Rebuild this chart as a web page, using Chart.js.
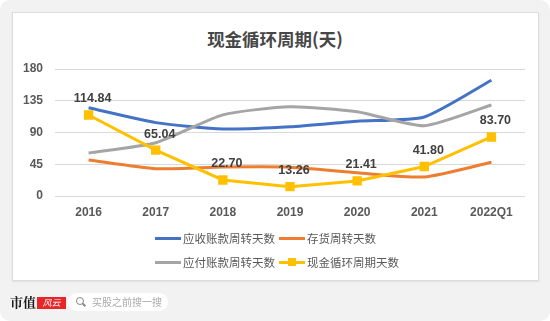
<!DOCTYPE html>
<html>
<head>
<meta charset="utf-8">
<script src="https://cdn.jsdelivr.net/npm/chart.js@4"></script>
<style>
  html, body { margin: 0; padding: 0; background: #fff; }
  #page { position: relative; width: 550px; height: 321px; overflow: hidden; }
  #bg { position: absolute; left: 0; top: 0; width: 550px; height: 321px; background: #f2f2f2; border-radius: 10px; }
  #card { position: absolute; left: 12px; top: 12px; width: 525px; height: 267px; background: #fff; border: 1px solid #dcdcdc; box-shadow: 0 1px 2px rgba(0,0,0,0.08); }
  #title { position: absolute; left: 0; top: 28px; width: 550px; text-align: center; font: bold 17.5px "Noto Sans CJK SC", sans-serif; color: #474747; line-height: 22px; }
  #chart { position: absolute; left: 0; top: 0; }
  #legend { position: absolute; left: 155px; top: 229px; display: grid; grid-template-columns: 124px 130px; row-gap: 6px; font: 11.5px "Noto Sans CJK SC", sans-serif; color: #595959; }
  .item { display: flex; align-items: center; height: 18px; white-space: nowrap; }
  .sw { position: relative; width: 26px; height: 3px; margin-right: 2px; }
  .sw i { position: absolute; left: 9px; top: -3px; width: 8px; height: 8px; }
  #logo { position: absolute; left: 10px; top: 294px; font: bold 13px "Noto Serif CJK SC", "Noto Sans CJK SC", serif; color: #1a1a1a; line-height: 16px; white-space: nowrap; }
  #logo span { display: inline-block; background: #e8262a; color: #fff; font: italic 9px "Noto Sans CJK SC", sans-serif; width: 29px; height: 12px; line-height: 12px; text-align: center; margin-left: 1px; vertical-align: 1px; }
  #search { position: absolute; left: 68px; top: 293px; width: 100px; height: 18px; background: #fff; border-radius: 9px; font: 10px "Noto Sans CJK SC", sans-serif; color: #aaa; line-height: 18px; white-space: nowrap; }
  #search b { position: absolute; left: 8px; top: 4px; width: 6px; height: 6px; border: 1.5px solid #888; border-radius: 50%; }
  #search em { position: absolute; left: 15px; top: 10px; width: 1.5px; height: 4px; background: #888; transform: rotate(-45deg); }
  #search span { position: absolute; left: 24px; top: 0; }
</style>
</head>
<body>
<div id="page">
  <div id="bg"></div>
  <div id="card"></div>
  <div id="title">现金循环周期(天)</div>
  <canvas id="chart" width="550" height="321"></canvas>
  <div id="legend"></div>
  <div id="logo">市值<span>风云</span></div>
  <div id="search"><b></b><em></em><span>买股之前搜一搜</span></div>
</div>
<script>
const categories = ['2016', '2017', '2018', '2019', '2020', '2021', '2022Q1'];
const arDays = [125, 104, 95, 98, 106, 112, 164];
const inventoryDays = [51, 38.7, 41, 40.7, 33, 27, 47.8];
const apDays = [61, 75.5, 115, 126.5, 119.5, 99.6, 129];
const cashCycleDays = [114.84, 65.04, 22.70, 13.26, 21.41, 41.80, 83.70];
const yTicks = [0, 45, 90, 135, 180];

const seriesNames = ['应收账款周转天数', '存货周转天数', '应付账款周转天数', '现金循环周期天数'];
const colors = ['#4472C4', '#ED7D31', '#A5A5A5', '#FFC000'];

const labelPlugin = {
  id: 'cycleLabels',
  afterDatasetsDraw(chart) {
    const ctx = chart.ctx;
    const meta = chart.getDatasetMeta(3);
    ctx.save();
    ctx.font = 'bold 12.5px "Liberation Sans", sans-serif';
    ctx.fillStyle = '#404040';
    ctx.textAlign = 'center';
    ctx.textBaseline = 'middle';
    meta.data.forEach((pt, i) => {
      ctx.fillText(cashCycleDays[i].toFixed(2), pt.x + 4, pt.y - 16);
    });
    ctx.restore();
  }
};

const mkLine = (idx, data, tension) => ({
  label: seriesNames[idx],
  data: data,
  borderColor: colors[idx],
  backgroundColor: colors[idx],
  borderWidth: 3,
  pointRadius: 0,
  tension: tension,
  order: 4 - idx
});

const cashSet = mkLine(3, cashCycleDays, 0);
cashSet.pointStyle = 'rect';
cashSet.pointRadius = 4.5;
cashSet.order = 0;

const chart = new Chart(document.getElementById('chart'), {
  type: 'line',
  data: {
    labels: categories,
    datasets: [mkLine(0, arDays, 0.2), mkLine(1, inventoryDays, 0.2), mkLine(2, apDays, 0.2), cashSet]
  },
  options: {
    responsive: false,
    animation: false,
    layout: { padding: { left: 0, right: 25, top: 69, bottom: 100 } },
    plugins: {
      legend: { display: false },
      tooltip: { enabled: false }
    },
    scales: {
      x: {
        offset: true,
        grid: { display: false, drawTicks: false },
        border: { display: false },
        ticks: { color: '#595959', font: { family: 'Liberation Sans', size: 12, weight: 'bold' }, padding: 9 },
        afterFit: s => { s.height = 25; }
      },
      y: {
        min: 0,
        max: 180,
        afterBuildTicks: s => { s.ticks = yTicks.map(v => ({ value: v })); },
        grid: { color: '#d9d9d9', lineWidth: 1, drawTicks: false },
        border: { display: false },
        ticks: { color: '#595959', font: { family: 'Liberation Sans', size: 12, weight: 'bold' }, padding: 12 },
        afterFit: s => { s.width = 55; }
      }
    }
  },
  plugins: [labelPlugin]
});

// legend laid out as a 2x2 grid like the original
const legend = document.getElementById('legend');
[0, 1, 2, 3].forEach(i => {
  const item = document.createElement('div');
  item.className = 'item';
  const sw = document.createElement('div');
  sw.className = 'sw';
  sw.style.background = colors[i];
  if (i === 3) {
    const m = document.createElement('i');
    m.style.background = colors[i];
    sw.appendChild(m);
  }
  item.appendChild(sw);
  item.appendChild(document.createTextNode(seriesNames[i]));
  legend.appendChild(item);
});
</script>
</body>
</html>
